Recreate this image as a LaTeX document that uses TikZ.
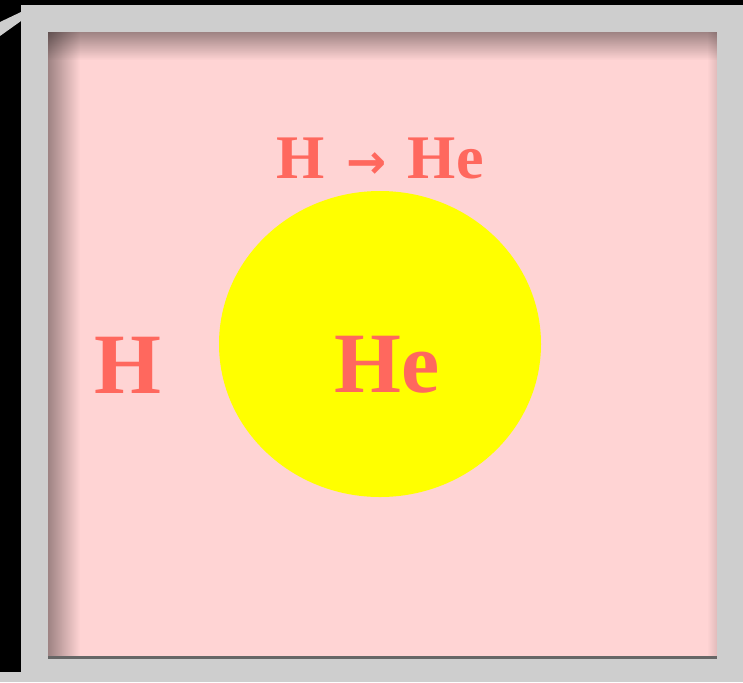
\documentclass[tikz,border=0pt]{standalone}
\usepackage{fontspec}
\setmainfont{Liberation Serif}
\newfontfamily\arrowfont{DejaVu Sans}
\usepackage{tikz}
\usetikzlibrary{shapes.geometric,fadings}
\definecolor{framegray}{RGB}{206,206,206}
\definecolor{panelpink}{RGB}{255,212,212}
\definecolor{fusionred}{RGB}{255,104,94}
\definecolor{coreyellow}{RGB}{255,255,0}
\tikzfading[name=shadedown, top color=transparent!62, bottom color=transparent!100]
\tikzfading[name=shaderight, left color=transparent!62, right color=transparent!100]
\tikzfading[name=shadeleft, left color=transparent!100, right color=transparent!88]
\tikzset{
  elm/.style   ={text=fusionred, font=\bfseries\fontsize{43}{47}\selectfont, inner sep=0pt},
  rxn/.style   ={text=fusionred, font=\bfseries\fontsize{31}{35}\selectfont, inner sep=0pt},
  core/.style  ={ellipse, fill=coreyellow, draw=none, minimum width=161pt, minimum height=153pt, inner sep=0pt},
}
\begin{document}
\begin{tikzpicture}[x=0.5pt,y=-0.5pt]
\useasboundingbox (0,0) rectangle (743,682);
% backdrop and frame
\fill[black] (0,0) rectangle (743,682);
\fill[framegray] (21,5) rectangle (743,682);
\fill[framegray] (0,672) rectangle (21,682);
\fill[framegray] (0,22) -- (21,12) -- (21,21) -- (0,36) -- cycle;
% panel with inner shadow
\fill[panelpink] (48,32) rectangle (717,658);
\fill[black, path fading=shadedown] (48,32) rectangle (717,60);
\fill[black, path fading=shaderight] (48,32) rectangle (80,658);
\fill[black, path fading=shadeleft] (707,32) rectangle (717,658);
\fill[black!60] (48,656) rectangle (717,659);
% labels
\node[core] (sun) at (380,344) {};
\node[elm] (hcore) at (387,365) {He};
\node[elm] (hshell) at (128,365) {H};
\node[rxn] (fusion) at (380,158) {H\hspace{3pt} {\arrowfont\bfseries\fontsize{24}{28}\selectfont →}\hspace{3pt} He};
\end{tikzpicture}
\end{document}
